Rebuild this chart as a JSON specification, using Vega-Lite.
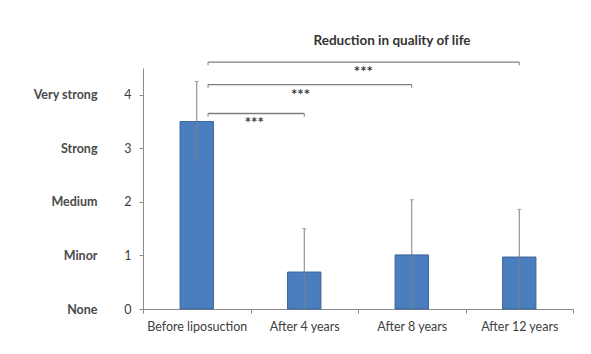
{
  "$schema": "https://vega.github.io/schema/vega-lite/v6.json",
  "autosize": "none",
  "width": 430,
  "height": 241,
  "padding": {"left": 143, "top": 68, "right": 18, "bottom": 45},
  "background": "white",
  "title": {"text": "Reduction in quality of life", "frame": "group", "anchor": "middle", "dx": 34, "fontSize": 13.5, "fontWeight": "bold", "color": "#333333", "font": "Lato", "offset": 14},
  "config": {"view": {"stroke": null}, "font": "Lato"},
  "datasets": {
    "bars": [
      {"cat": "Before liposuction", "mean": 3.5, "lo": 2.72, "hi": 4.25},
      {"cat": "After 4 years", "mean": 0.69, "lo": 0, "hi": 1.5},
      {"cat": "After 8 years", "mean": 1.01, "lo": 0, "hi": 2.04},
      {"cat": "After 12 years", "mean": 0.97, "lo": 0, "hi": 1.86}
    ],
    "brackets": [
      {"from": "Before liposuction", "to": "After 4 years", "y": 3.65, "yend": 3.59, "ys": 3.53, "label": "***"},
      {"from": "Before liposuction", "to": "After 8 years", "y": 4.19, "yend": 4.13, "ys": 4.05, "label": "***"},
      {"from": "Before liposuction", "to": "After 12 years", "y": 4.61, "yend": 4.55, "ys": 4.49, "label": "***"}
    ]
  },
  "resolve": {"axis": {"y": "independent"}},
  "layer": [
    {
      "data": {"name": "bars"},
      "mark": {"type": "bar", "width": {"band": 0.31}, "fill": "#4a7ebf", "stroke": "#3a6397", "strokeWidth": 1},
      "encoding": {
        "x": {"field": "cat", "type": "nominal", "sort": null, "title": null,
          "scale": {"paddingInner": 0, "paddingOuter": 0},
          "axis": {"labelAngle": 0, "tickBand": "extent", "tickSize": 4, "labelPadding": 7, "domainColor": "#8a8a8a", "tickColor": "#8a8a8a", "labelColor": "#404040", "labelFontSize": 12.5, "labelFont": "Lato"}},
        "y": {"field": "mean", "type": "quantitative", "title": null,
          "scale": {"domain": [0, 4.5], "nice": false, "zero": true},
          "axis": {"orient": "left", "values": [0, 1, 2, 3, 4], "grid": false, "tickSize": 4, "labelPadding": 8, "domainColor": "#8a8a8a", "tickColor": "#8a8a8a", "labelColor": "#404040", "labelFontSize": 12.5, "labelFont": "Lato", "format": "d"}}
      }
    },
    {
      "data": {"name": "bars"},
      "mark": {"type": "rule", "color": "#7f7f7f", "strokeWidth": 1},
      "encoding": {
        "x": {"field": "cat", "type": "nominal", "sort": null},
        "y": {"field": "lo", "type": "quantitative",
          "axis": {"orient": "left", "values": [0, 1, 2, 3, 4], "labelExpr": "['None','Minor','Medium','Strong','Very strong'][datum.value]", "ticks": false, "domain": false, "grid": false, "labelPadding": 46, "labelColor": "#4a4a4a", "labelFontSize": 12.5, "labelFont": "Lato", "labelFontWeight": "bold", "title": null}},
        "y2": {"field": "hi"}
      }
    },
    {
      "data": {"name": "bars"},
      "mark": {"type": "tick", "orient": "horizontal", "color": "#7f7f7f", "size": 4, "thickness": 1},
      "encoding": {
        "x": {"field": "cat", "type": "nominal", "sort": null},
        "y": {"field": "hi", "type": "quantitative", "axis": null}
      }
    },
    {
      "data": {"name": "brackets"},
      "mark": {"type": "rule", "color": "#7f7f7f", "strokeWidth": 1.3},
      "encoding": {
        "x": {"field": "from", "type": "nominal", "sort": null, "bandPosition": 0.605},
        "x2": {"field": "to", "bandPosition": 0.5},
        "y": {"field": "y", "type": "quantitative", "axis": null}
      }
    },
    {
      "data": {"name": "brackets"},
      "mark": {"type": "rule", "color": "#7f7f7f", "strokeWidth": 1},
      "encoding": {
        "x": {"field": "from", "type": "nominal", "sort": null, "bandPosition": 0.605},
        "y": {"field": "y", "type": "quantitative", "axis": null},
        "y2": {"field": "yend"}
      }
    },
    {
      "data": {"name": "brackets"},
      "mark": {"type": "rule", "color": "#7f7f7f", "strokeWidth": 1},
      "encoding": {
        "x": {"field": "to", "type": "nominal", "sort": null, "bandPosition": 0.5},
        "y": {"field": "y", "type": "quantitative", "axis": null},
        "y2": {"field": "yend"}
      }
    },
    {
      "data": {"name": "brackets"},
      "transform": [{"filter": "datum.to === 'After 4 years'"}],
      "mark": {"type": "text", "fontSize": 15, "fontWeight": "bold", "color": "#404040", "baseline": "middle", "align": "center", "dy": 3},
      "encoding": {
        "x": {"field": "from", "type": "nominal", "sort": null, "bandPosition": 1.035},
        "y": {"field": "ys", "type": "quantitative", "axis": null},
        "text": {"field": "label"}
      }
    },
    {
      "data": {"name": "brackets"},
      "transform": [{"filter": "datum.to === 'After 8 years'"}],
      "mark": {"type": "text", "fontSize": 15, "fontWeight": "bold", "color": "#404040", "baseline": "middle", "align": "center", "dy": 3},
      "encoding": {
        "x": {"field": "from", "type": "nominal", "sort": null, "bandPosition": 1.465},
        "y": {"field": "ys", "type": "quantitative", "axis": null},
        "text": {"field": "label"}
      }
    },
    {
      "data": {"name": "brackets"},
      "transform": [{"filter": "datum.to === 'After 12 years'"}],
      "mark": {"type": "text", "fontSize": 15, "fontWeight": "bold", "color": "#404040", "baseline": "middle", "align": "center", "dy": 3},
      "encoding": {
        "x": {"field": "from", "type": "nominal", "sort": null, "bandPosition": 2.05},
        "y": {"field": "ys", "type": "quantitative", "axis": null},
        "text": {"field": "label"}
      }
    }
  ]
}
